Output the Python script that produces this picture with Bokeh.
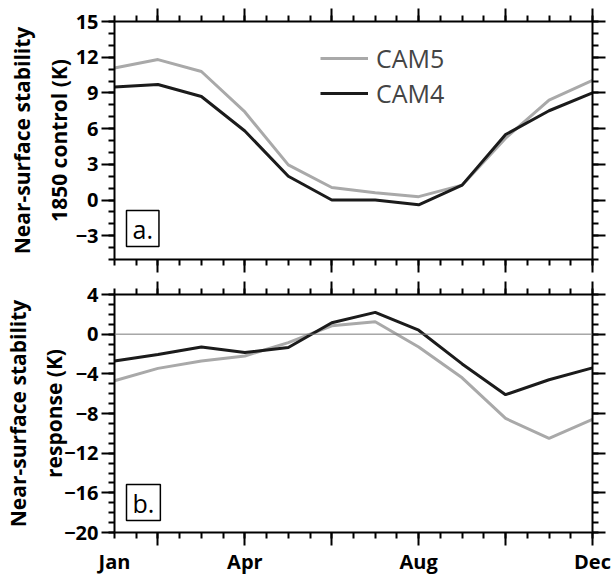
from bokeh.plotting import figure
from bokeh.models import (FixedTicker, LinearAxis, Legend, LegendItem, Label, Span, Range1d)
from bokeh.layouts import column
from bokeh.embed import file_html
from bokeh.resources import INLINE

months = [1, 2, 3, 4, 5, 6, 7, 8, 9, 10, 11, 12]
month_labels = {1: "Jan", 4: "Apr", 8: "Aug", 12: "Dec"}

cam5_control = [11.1, 11.8, 10.8, 7.4, 2.95, 1.05, 0.6, 0.28, 1.25, 5.2, 8.4, 10.05]
cam4_control = [9.5, 9.7, 8.7, 5.8, 2.0, 0.0, 0.0, -0.4, 1.25, 5.5, 7.5, 9.0]

cam5_response = [-4.7, -3.45, -2.7, -2.2, -0.85, 0.85, 1.25, -1.3, -4.4, -8.5, -10.5, -8.6]
cam4_response = [-2.7, -2.05, -1.3, -1.85, -1.35, 1.15, 2.2, 0.4, -3.0, -6.1, -4.6, -3.4]

top_ticks = [-3, 0, 3, 6, 9, 12, 15]
bot_ticks = [-20, -16, -12, -8, -4, 0, 4]

top_ylabel = ["Near-surface stability", "1850 control (K)"]
bot_ylabel = ["Near-surface stability", "response (K)"]

GREY = "#a9a9a9"
BLACK = "#1b1b1b"
FONT = "Open Sans"

x_major = [2, 4, 6, 8, 10, 12]
x_minor = [1 + 0.5 * i for i in range(23)]
label_months = sorted(month_labels)


def style_axis(ax, show_labels, ticks=None):
    ax.axis_line_width = 2
    ax.axis_line_color = "black"
    ax.major_tick_line_width = 2
    ax.minor_tick_line_width = 2
    ax.major_tick_out = 13
    ax.major_tick_in = 0
    ax.minor_tick_out = 6
    ax.minor_tick_in = 0
    ax.major_label_text_font = FONT
    ax.major_label_text_font_style = "bold"
    ax.major_label_text_color = "black"
    if show_labels:
        ax.major_label_text_font_size = "20px"
        ax.major_label_standoff = 3
    else:
        ax.major_label_overrides = {t: "" for t in ticks}
        ax.major_label_text_font_size = "0px"
        ax.major_label_standoff = 0


def style_title(ax, standoff):
    ax.axis_label_text_font = FONT
    ax.axis_label_text_font_style = "bold"
    ax.axis_label_text_font_size = "21px"
    ax.axis_label_text_color = "black"
    ax.axis_label_standoff = standoff


def make_panel(yr, yt, ylabel, tag, show_x, top_border, bottom_border, label_standoff, tag_y):
    p = figure(frame_width=478, frame_height=238, output_backend="svg",
               toolbar_location=None, x_axis_location=None, y_axis_location=None,
               x_range=Range1d(1, 12), y_range=Range1d(*yr),
               min_border_left=114, min_border_right=22,
               min_border_top=top_border, min_border_bottom=bottom_border)
    p.grid.visible = False
    p.outline_line_color = None
    p.background_fill_color = "white"
    p.border_fill_color = "white"

    xt = FixedTicker(ticks=x_major, minor_ticks=x_minor)
    ytk = FixedTicker(ticks=yt, minor_ticks=list(range(int(yr[0]), int(yr[1]) + 1)))

    left = LinearAxis(ticker=ytk, axis_label=ylabel[1])
    style_axis(left, True)
    style_title(left, label_standoff)
    p.add_layout(left, "left")

    outer = LinearAxis(ticker=FixedTicker(ticks=[], minor_ticks=[]), axis_label=ylabel[0])
    style_axis(outer, False, [])
    outer.axis_line_color = None
    outer.major_tick_out = 0
    outer.minor_tick_out = 0
    style_title(outer, 6)
    p.add_layout(outer, "left")

    right = LinearAxis(ticker=ytk)
    style_axis(right, False, yt)
    p.add_layout(right, "right")

    top = LinearAxis(ticker=xt)
    style_axis(top, False, x_major)
    p.add_layout(top, "above")

    bottom = LinearAxis(ticker=xt)
    style_axis(bottom, False, x_major)
    p.add_layout(bottom, "below")

    if show_x:
        lab = LinearAxis(ticker=FixedTicker(ticks=label_months, minor_ticks=[]),
                         major_label_overrides=month_labels)
        style_axis(lab, True)
        lab.axis_line_color = None
        lab.major_tick_out = 0
        lab.major_tick_line_color = None
        lab.major_label_standoff = 2
        p.add_layout(lab, "below")

    tag_label = Label(x=12, y=tag_y, x_units="screen", y_units="screen", text=tag,
                      text_font=FONT, text_font_size="25px", text_color="black",
                      border_line_color="black", border_line_width=1.5,
                      background_fill_color="white",
                      padding=dict(left=6, right=6, top=1, bottom=1))
    p.add_layout(tag_label)
    return p


p1 = make_panel((-5, 15), top_ticks, top_ylabel, "a.", False, 21, 17, 0, 13)
r5 = p1.line(months, cam5_control, line_color=GREY, line_width=3)
r4 = p1.line(months, cam4_control, line_color=BLACK, line_width=3)
legend = Legend(items=[LegendItem(label="CAM5", renderers=[r5]),
                       LegendItem(label="CAM4", renderers=[r4])],
                location=(206, 149), label_text_font=FONT, label_text_font_size="25px",
                glyph_width=48, glyph_height=24, label_height=24, spacing=1,
                label_standoff=8, padding=0, margin=0,
                border_line_color=None, background_fill_alpha=0)
p1.add_layout(legend)

p2 = make_panel((-20, 4), bot_ticks, bot_ylabel, "b.", True, 18, 40, -7, 12)
p2.add_layout(Span(location=0, dimension="width", line_color="#7a7a7a", line_width=1))
p2.line(months, cam5_response, line_color=GREY, line_width=3)
p2.line(months, cam4_response, line_color=BLACK, line_width=3)

layout = column(p1, p2, spacing=0)
open("out.html", "w").write(file_html(layout, INLINE))
